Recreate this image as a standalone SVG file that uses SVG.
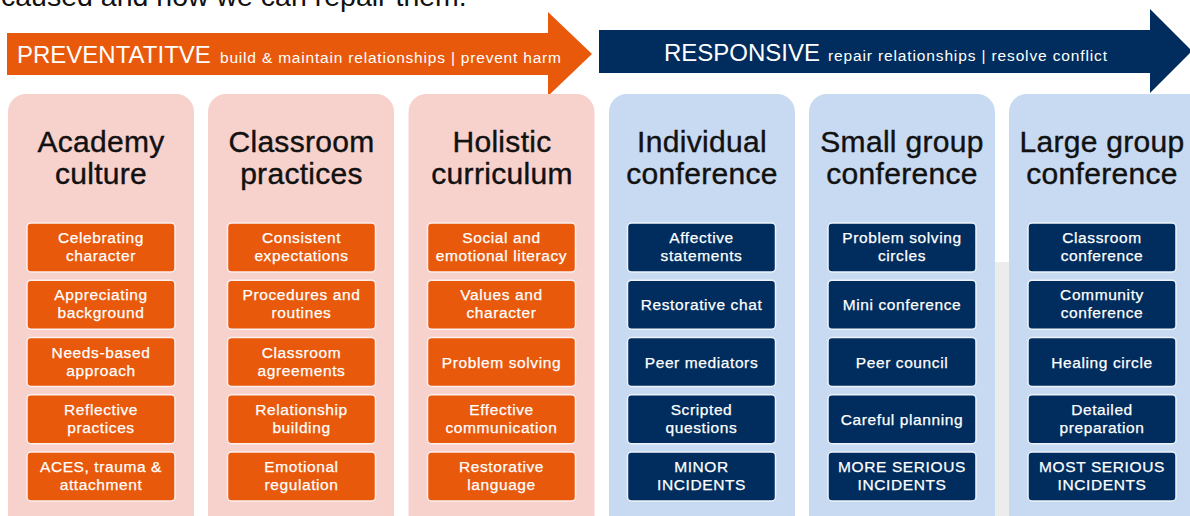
<svg xmlns="http://www.w3.org/2000/svg" width="1190" height="516" viewBox="0 0 1190 516">
<style>
.top{font-family:"Liberation Sans",Arial,sans-serif;font-size:28.5px;fill:#111}
.band{font-family:"Liberation Sans",Arial,sans-serif;fill:#fff}
.big{font-size:24px}
.sub{font-size:15.5px}
.colP{fill:#f7d2cd}
.colR{fill:#c8daf1}
.head{font-family:"Liberation Sans",Arial,sans-serif;font-size:30px;fill:#111;stroke:#111;stroke-width:0.4;text-anchor:middle;letter-spacing:0.3px}
.boxO{fill:#e8590c;stroke:#fdf0ee;stroke-width:1.5}
.boxN{fill:#002d5d;stroke:#eef3fb;stroke-width:1.5}
.it{font-family:"Liberation Sans",Arial,sans-serif;font-size:15.5px;fill:#fff;stroke:#fff;stroke-width:0.25;text-anchor:middle;letter-spacing:0.6px}
</style>
<rect width="1190" height="516" fill="#fff"/>
<text class="top" x="1" y="6">caused and how we can repair them.</text>
<rect x="994" y="262" width="17" height="254" fill="#ececec"/>
<g id="preventative-arrow">
<polygon points="7,33 548,33 548,12 592,54 548,96 548,75 7,75" fill="#e8590c"/>
<text class="band big" x="17" y="63">PREVENTATITVE</text>
<text class="band sub" x="220" y="63" textLength="341" lengthAdjust="spacing">build &amp; maintain relationships | prevent harm</text>
</g>
<g id="responsive-arrow">
<polygon points="599,30 1150,30 1150,9 1192,51 1150,93 1150,73 599,73" fill="#002d5d"/>
<text class="band big" x="664" y="61">RESPONSIVE</text>
<text class="band sub" x="828" y="61" textLength="279" lengthAdjust="spacing">repair relationships | resolve conflict</text>
</g>
<g id="connectors"/>
<g id="col-academy-culture">
<rect class="colP" x="8" y="94" width="186" height="440" rx="18"/>
<text class="head" x="101" y="152">Academy</text><text class="head" x="101" y="184">culture</text>
<g id="academy-1"><rect class="boxO" x="27" y="223" width="148" height="49" rx="4"/><text class="it" x="101" y="243">Celebrating</text><text class="it" x="101" y="261">character</text></g>
<g id="academy-2"><rect class="boxO" x="27" y="280.25" width="148" height="49" rx="4"/><text class="it" x="101" y="300.25">Appreciating</text><text class="it" x="101" y="318.25">background</text></g>
<g id="academy-3"><rect class="boxO" x="27" y="337.5" width="148" height="49" rx="4"/><text class="it" x="101" y="357.5">Needs-based</text><text class="it" x="101" y="375.5">approach</text></g>
<g id="academy-4"><rect class="boxO" x="27" y="394.75" width="148" height="49" rx="4"/><text class="it" x="101" y="414.75">Reflective</text><text class="it" x="101" y="432.75">practices</text></g>
<g id="academy-5"><rect class="boxO" x="27" y="452" width="148" height="49" rx="4"/><text class="it" x="101" y="472">ACES, trauma &amp;</text><text class="it" x="101" y="490">attachment</text></g>
</g>
<g id="col-classroom-practices">
<rect class="colP" x="208" y="94" width="186" height="440" rx="18"/>
<text class="head" x="301.5" y="152">Classroom</text><text class="head" x="301.5" y="184">practices</text>
<g id="classroom-1"><rect class="boxO" x="227.5" y="223" width="148" height="49" rx="4"/><text class="it" x="301.5" y="243">Consistent</text><text class="it" x="301.5" y="261">expectations</text></g>
<g id="classroom-2"><rect class="boxO" x="227.5" y="280.25" width="148" height="49" rx="4"/><text class="it" x="301.5" y="300.25">Procedures and</text><text class="it" x="301.5" y="318.25">routines</text></g>
<g id="classroom-3"><rect class="boxO" x="227.5" y="337.5" width="148" height="49" rx="4"/><text class="it" x="301.5" y="357.5">Classroom</text><text class="it" x="301.5" y="375.5">agreements</text></g>
<g id="classroom-4"><rect class="boxO" x="227.5" y="394.75" width="148" height="49" rx="4"/><text class="it" x="301.5" y="414.75">Relationship</text><text class="it" x="301.5" y="432.75">building</text></g>
<g id="classroom-5"><rect class="boxO" x="227.5" y="452" width="148" height="49" rx="4"/><text class="it" x="301.5" y="472">Emotional</text><text class="it" x="301.5" y="490">regulation</text></g>
</g>
<g id="col-holistic-curriculum">
<rect class="colP" x="408.5" y="94" width="186" height="440" rx="18"/>
<text class="head" x="502" y="152">Holistic</text><text class="head" x="502" y="184">curriculum</text>
<g id="holistic-1"><rect class="boxO" x="427.5" y="223" width="148" height="49" rx="4"/><text class="it" x="501.5" y="243">Social and</text><text class="it" x="501.5" y="261">emotional literacy</text></g>
<g id="holistic-2"><rect class="boxO" x="427.5" y="280.25" width="148" height="49" rx="4"/><text class="it" x="501.5" y="300.25">Values and</text><text class="it" x="501.5" y="318.25">character</text></g>
<g id="holistic-3"><rect class="boxO" x="427.5" y="337.5" width="148" height="49" rx="4"/><text class="it" x="501.5" y="367.5">Problem solving</text></g>
<g id="holistic-4"><rect class="boxO" x="427.5" y="394.75" width="148" height="49" rx="4"/><text class="it" x="501.5" y="414.75">Effective</text><text class="it" x="501.5" y="432.75">communication</text></g>
<g id="holistic-5"><rect class="boxO" x="427.5" y="452" width="148" height="49" rx="4"/><text class="it" x="501.5" y="472">Restorative</text><text class="it" x="501.5" y="490">language</text></g>
</g>
<g id="col-individual-conference">
<rect class="colR" x="609" y="94" width="186" height="440" rx="18"/>
<text class="head" x="702" y="152">Individual</text><text class="head" x="702" y="184">conference</text>
<g id="individual-1"><rect class="boxN" x="627.5" y="223" width="148" height="49" rx="4"/><text class="it" x="701.5" y="243">Affective</text><text class="it" x="701.5" y="261">statements</text></g>
<g id="individual-2"><rect class="boxN" x="627.5" y="280.25" width="148" height="49" rx="4"/><text class="it" x="701.5" y="310.25">Restorative chat</text></g>
<g id="individual-3"><rect class="boxN" x="627.5" y="337.5" width="148" height="49" rx="4"/><text class="it" x="701.5" y="367.5">Peer mediators</text></g>
<g id="individual-4"><rect class="boxN" x="627.5" y="394.75" width="148" height="49" rx="4"/><text class="it" x="701.5" y="414.75">Scripted</text><text class="it" x="701.5" y="432.75">questions</text></g>
<g id="individual-5"><rect class="boxN" x="627.5" y="452" width="148" height="49" rx="4"/><text class="it" x="701.5" y="472">MINOR</text><text class="it" x="701.5" y="490">INCIDENTS</text></g>
</g>
<g id="col-small-group-conference">
<rect class="colR" x="809" y="94" width="186" height="440" rx="18"/>
<text class="head" x="902" y="152">Small group</text><text class="head" x="902" y="184">conference</text>
<g id="small-1"><rect class="boxN" x="828" y="223" width="148" height="49" rx="4"/><text class="it" x="902" y="243">Problem solving</text><text class="it" x="902" y="261">circles</text></g>
<g id="small-2"><rect class="boxN" x="828" y="280.25" width="148" height="49" rx="4"/><text class="it" x="902" y="310.25">Mini conference</text></g>
<g id="small-3"><rect class="boxN" x="828" y="337.5" width="148" height="49" rx="4"/><text class="it" x="902" y="367.5">Peer council</text></g>
<g id="small-4"><rect class="boxN" x="828" y="394.75" width="148" height="49" rx="4"/><text class="it" x="902" y="424.75">Careful planning</text></g>
<g id="small-5"><rect class="boxN" x="828" y="452" width="148" height="49" rx="4"/><text class="it" x="902" y="472">MORE SERIOUS</text><text class="it" x="902" y="490">INCIDENTS</text></g>
</g>
<g id="col-large-group-conference">
<rect class="colR" x="1009" y="94" width="200" height="440" rx="18"/>
<text class="head" x="1102" y="152">Large group</text><text class="head" x="1102" y="184">conference</text>
<g id="large-1"><rect class="boxN" x="1028" y="223" width="148" height="49" rx="4"/><text class="it" x="1102" y="243">Classroom</text><text class="it" x="1102" y="261">conference</text></g>
<g id="large-2"><rect class="boxN" x="1028" y="280.25" width="148" height="49" rx="4"/><text class="it" x="1102" y="300.25">Community</text><text class="it" x="1102" y="318.25">conference</text></g>
<g id="large-3"><rect class="boxN" x="1028" y="337.5" width="148" height="49" rx="4"/><text class="it" x="1102" y="367.5">Healing circle</text></g>
<g id="large-4"><rect class="boxN" x="1028" y="394.75" width="148" height="49" rx="4"/><text class="it" x="1102" y="414.75">Detailed</text><text class="it" x="1102" y="432.75">preparation</text></g>
<g id="large-5"><rect class="boxN" x="1028" y="452" width="148" height="49" rx="4"/><text class="it" x="1102" y="472">MOST SERIOUS</text><text class="it" x="1102" y="490">INCIDENTS</text></g>
</g>
</svg>
